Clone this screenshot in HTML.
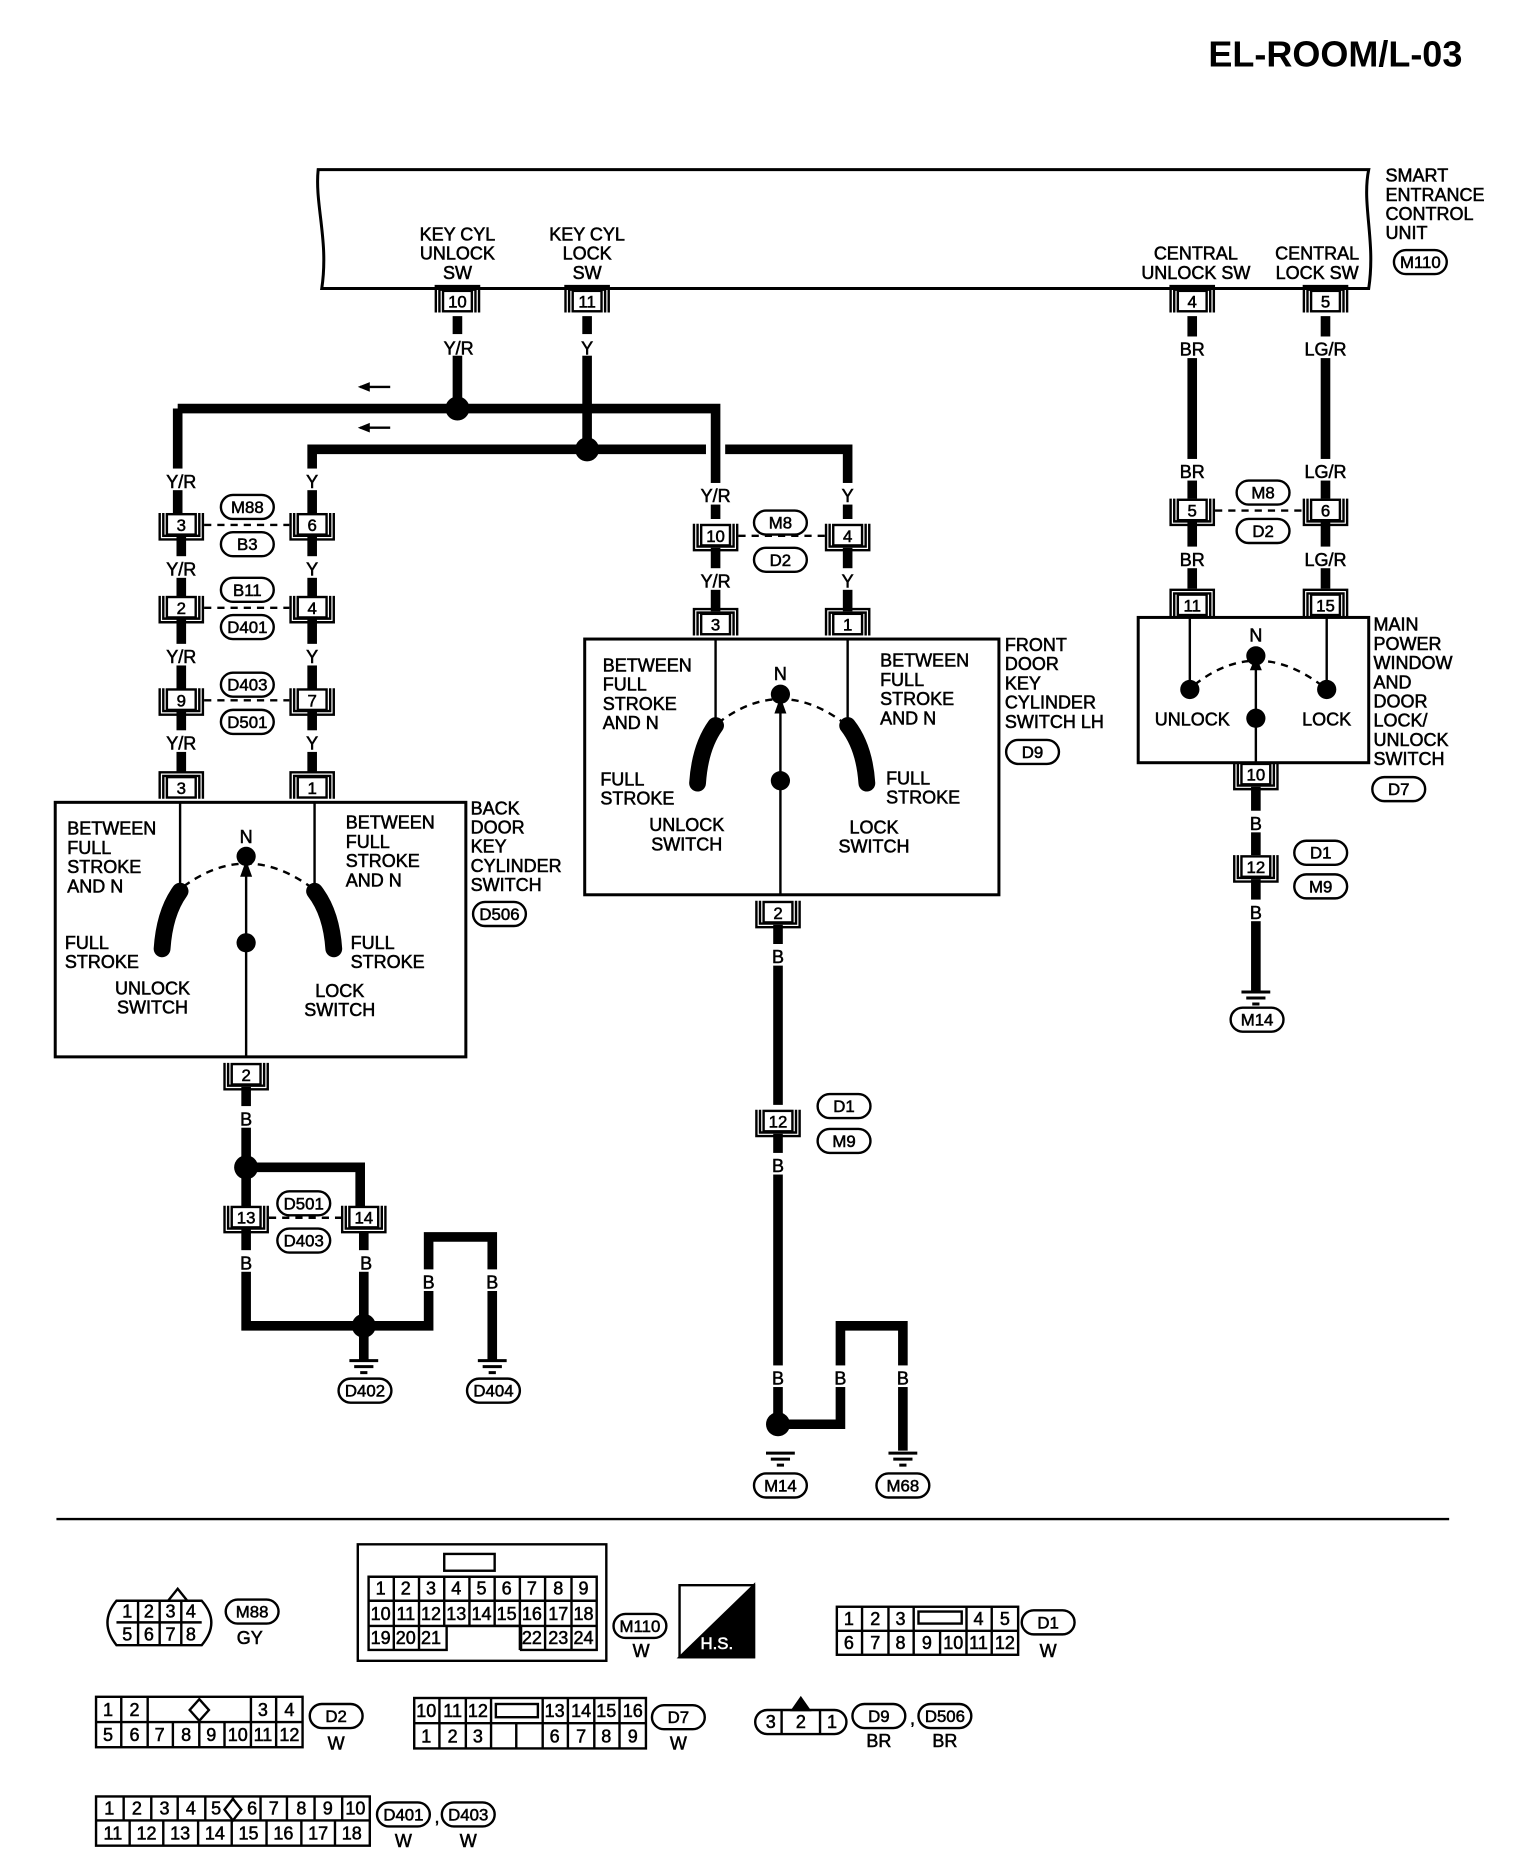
<!DOCTYPE html>
<html><head><meta charset="utf-8"><style>
html,body{margin:0;padding:0;background:#fff}
svg{display:block}
text{font-family:"Liberation Sans",sans-serif;font-size:15px;fill:#000;text-anchor:middle;stroke:#000;stroke-width:0.45}
.l{text-anchor:start}
.s{font-size:14px}
.w{stroke:#000;stroke-width:8;fill:none}
.n{stroke:#000;stroke-width:2;fill:none}
.d{stroke:#000;stroke-width:2;fill:none;stroke-dasharray:6,5}
.c text{font-size:14px}
</style></head><body>
<svg width="1520" height="1864" viewBox="0 0 1266 1552" xmlns="http://www.w3.org/2000/svg">
<defs>
<g id="cu"><path d="M-18,-10V12H18V-10M-15,-10V9H15V-10" class="n"/><rect x="-12" y="-9" width="24" height="17" fill="#fff" stroke="#000" stroke-width="2"/></g>
<g id="cd"><path d="M-18,10V-12H18V10M-15,10V-9H15V10" class="n"/><rect x="-12" y="-8" width="24" height="17" fill="#fff" stroke="#000" stroke-width="2"/></g>
<rect id="ov" x="-22" y="-10" width="44" height="20" rx="10" fill="#fff" stroke="#000" stroke-width="2"/>
<path id="gnd" d="M-12,0H12M-8,5H8M-3,10H3" stroke="#000" stroke-width="2.5"/>
</defs>

<text x="1218" y="55" style="font-size:30px;text-anchor:end;font-weight:bold;stroke-width:0">EL-ROOM/L-03</text>

<!-- control unit -->
<path d="M265,141H1140C1134,170 1146,200 1140,240H268C274,200 262,170 265,141Z" fill="#fff" stroke="#000" stroke-width="2.5"/>
<text x="381" y="200">KEY CYL</text><text x="381" y="216">UNLOCK</text><text x="381" y="232">SW</text>
<text x="489" y="200">KEY CYL</text><text x="489" y="216">LOCK</text><text x="489" y="232">SW</text>
<text x="996" y="216">CENTRAL</text><text x="996" y="232">UNLOCK SW</text>
<text x="1097" y="216">CENTRAL</text><text x="1097" y="232">LOCK SW</text>
<text class="l" x="1154" y="151">SMART</text><text class="l" x="1154" y="167">ENTRANCE</text><text class="l" x="1154" y="183">CONTROL</text><text class="l" x="1154" y="199">UNIT</text>
<use href="#ov" x="1183" y="218"/><text class="s" x="1183" y="223">M110</text>

<!-- wires -->
<path class="w" d="M381,263V340M148,340H596V432M148,340V428M489,263V374M260,432V374H489M489,374H588M604,374H706V432"/>
<path class="w" d="M151,446V498M151,515V575M151,592V643M260,446V498M260,515V575M260,592V643"/>
<path class="w" d="M596,456V509M706,456V509M648,770V920M648,944V1186H700V1104H752V1208M205,905V1104H357V1030H410V1133M205,972H300V1006M303,1025V1133"/>
<path class="w" d="M993,263V415M1104,263V415M993,434V490M1104,434V490M1046,655V712M1046,732V826"/>
<circle cx="381" cy="340" r="10"/><circle cx="489" cy="374" r="10"/>
<circle cx="205" cy="972" r="10"/><circle cx="303" cy="1104" r="10"/><circle cx="648" cy="1186" r="10"/>
<path class="n" d="M300,322H325M300,356H325"/><path d="M298,322l10,-4v8zM298,356l10,-4v8z"/>
<g fill="#fff">
<rect x="365" y="278" width="34" height="18"/><rect x="480" y="278" width="18" height="18"/>
<rect x="134" y="390" width="34" height="18"/><rect x="250" y="390" width="20" height="18"/>
<rect x="134" y="463" width="34" height="18"/><rect x="250" y="463" width="20" height="18"/>
<rect x="134" y="536" width="34" height="18"/><rect x="250" y="536" width="20" height="18"/>
<rect x="134" y="608" width="34" height="18"/><rect x="250" y="608" width="20" height="18"/>
<rect x="578" y="402" width="36" height="18"/><rect x="696" y="402" width="20" height="18"/>
<rect x="578" y="473" width="36" height="18"/><rect x="696" y="473" width="20" height="18"/>
<rect x="978" y="280" width="30" height="18"/><rect x="1082" y="280" width="44" height="18"/>
<rect x="978" y="382" width="30" height="18"/><rect x="1082" y="382" width="44" height="18"/>
<rect x="978" y="455" width="30" height="18"/><rect x="1082" y="455" width="44" height="18"/>
<rect x="196" y="921" width="18" height="18"/><rect x="196" y="1041" width="18" height="18"/><rect x="296" y="1041" width="18" height="18"/>
<rect x="348" y="1057" width="18" height="18"/><rect x="401" y="1057" width="18" height="18"/>
<rect x="639" y="786" width="18" height="18"/><rect x="639" y="960" width="18" height="18"/><rect x="639" y="1137" width="18" height="18"/>
<rect x="691" y="1137" width="18" height="18"/><rect x="743" y="1137" width="18" height="18"/>
<rect x="1037" y="675" width="18" height="18"/><rect x="1037" y="749" width="18" height="18"/>
</g>
<text x="382" y="295">Y/R</text><text x="489" y="295">Y</text>
<text x="151" y="406">Y/R</text><text x="260" y="406">Y</text>
<text x="151" y="479">Y/R</text><text x="260" y="479">Y</text>
<text x="151" y="552">Y/R</text><text x="260" y="552">Y</text>
<text x="151" y="624">Y/R</text><text x="260" y="624">Y</text>
<text x="596" y="418">Y/R</text><text x="706" y="418">Y</text>
<text x="596" y="489">Y/R</text><text x="706" y="489">Y</text>
<text x="993" y="296">BR</text><text x="1104" y="296">LG/R</text>
<text x="993" y="398">BR</text><text x="1104" y="398">LG/R</text>
<text x="993" y="471">BR</text><text x="1104" y="471">LG/R</text>
<text x="205" y="937">B</text><text x="205" y="1057">B</text><text x="305" y="1057">B</text>
<text x="357" y="1073">B</text><text x="410" y="1073">B</text>
<text x="648" y="802">B</text><text x="648" y="976">B</text><text x="648" y="1153">B</text>
<text x="700" y="1153">B</text><text x="752" y="1153">B</text>
<text x="1046" y="691">B</text><text x="1046" y="765">B</text>

<g class="c">
<use href="#cd" x="381" y="250"/><text x="381" y="256">10</text>
<use href="#cd" x="489" y="250"/><text x="489" y="256">11</text>
<use href="#cd" x="993" y="250"/><text x="993" y="256">4</text>
<use href="#cd" x="1104" y="250"/><text x="1104" y="256">5</text>
<use href="#cu" x="151" y="437"/><text x="151" y="442">3</text>
<use href="#cu" x="260" y="437"/><text x="260" y="442">6</text>
<use href="#cu" x="151" y="506"/><text x="151" y="511">2</text>
<use href="#cu" x="260" y="506"/><text x="260" y="511">4</text>
<use href="#cu" x="151" y="583"/><text x="151" y="588">9</text>
<use href="#cu" x="260" y="583"/><text x="260" y="588">7</text>
<use href="#cd" x="151" y="655"/><text x="151" y="661">3</text>
<use href="#cd" x="260" y="655"/><text x="260" y="661">1</text>
<use href="#cu" x="205" y="895"/><text x="205" y="900">2</text>
<use href="#cu" x="205" y="1014"/><text x="205" y="1019">13</text>
<use href="#cu" x="303" y="1014"/><text x="303" y="1019">14</text>
<use href="#cu" x="596" y="446"/><text x="596" y="451">10</text>
<use href="#cu" x="706" y="446"/><text x="706" y="451">4</text>
<use href="#cd" x="596" y="519"/><text x="596" y="525">3</text>
<use href="#cd" x="706" y="519"/><text x="706" y="525">1</text>
<use href="#cu" x="648" y="760"/><text x="648" y="765">2</text>
<use href="#cu" x="648" y="934"/><text x="648" y="939">12</text>
<use href="#cu" x="993" y="425"/><text x="993" y="430">5</text>
<use href="#cu" x="1104" y="425"/><text x="1104" y="430">6</text>
<use href="#cd" x="993" y="503"/><text x="993" y="509">11</text>
<use href="#cd" x="1104" y="503"/><text x="1104" y="509">15</text>
<use href="#cu" x="1046" y="645"/><text x="1046" y="650">10</text>
<use href="#cu" x="1046" y="722"/><text x="1046" y="727">12</text>
</g>
<path class="d" d="M170,437H241M170,506H241M170,583H241M224,1014H284M615,446H687M1012,425H1085"/>
<g>
<use href="#ov" x="206" y="422"/><text class="s" x="206" y="427">M88</text>
<use href="#ov" x="206" y="453"/><text class="s" x="206" y="458">B3</text>
<use href="#ov" x="206" y="491"/><text class="s" x="206" y="496">B11</text>
<use href="#ov" x="206" y="522"/><text class="s" x="206" y="527">D401</text>
<use href="#ov" x="206" y="570"/><text class="s" x="206" y="575">D403</text>
<use href="#ov" x="206" y="601"/><text class="s" x="206" y="606">D501</text>
<use href="#ov" x="253" y="1002"/><text class="s" x="253" y="1007">D501</text>
<use href="#ov" x="253" y="1033"/><text class="s" x="253" y="1038">D403</text>
<use href="#ov" x="650" y="435"/><text class="s" x="650" y="440">M8</text>
<use href="#ov" x="650" y="466"/><text class="s" x="650" y="471">D2</text>
<use href="#ov" x="1052" y="410"/><text class="s" x="1052" y="415">M8</text>
<use href="#ov" x="1052" y="442"/><text class="s" x="1052" y="447">D2</text>
<use href="#ov" x="703" y="921"/><text class="s" x="703" y="926">D1</text>
<use href="#ov" x="703" y="950"/><text class="s" x="703" y="955">M9</text>
<use href="#ov" x="1100" y="710"/><text class="s" x="1100" y="715">D1</text>
<use href="#ov" x="1100" y="738"/><text class="s" x="1100" y="743">M9</text>
<use href="#ov" x="416" y="761"/><text class="s" x="416" y="766">D506</text>
<use href="#ov" x="860" y="626"/><text class="s" x="860" y="631">D9</text>
<use href="#ov" x="1165" y="657"/><text class="s" x="1165" y="662">D7</text>
<use href="#ov" x="304" y="1158"/><text class="s" x="304" y="1163">D402</text>
<use href="#ov" x="411" y="1158"/><text class="s" x="411" y="1163">D404</text>
<use href="#ov" x="650" y="1237"/><text class="s" x="650" y="1242">M14</text>
<use href="#ov" x="752" y="1237"/><text class="s" x="752" y="1242">M68</text>
<use href="#ov" x="1047" y="849"/><text class="s" x="1047" y="854">M14</text>
</g>
<use href="#gnd" x="303" y="1133"/><use href="#gnd" x="410" y="1133"/>
<use href="#gnd" x="650" y="1210"/><use href="#gnd" x="752" y="1210"/><use href="#gnd" x="1046" y="826"/>

<!-- back door switch -->
<rect x="46" y="668" width="342" height="212" fill="none" stroke="#000" stroke-width="2.5"/>
<path class="n" d="M150,668V742M262,668V742M205,880V725"/>
<path d="M205,716l-5,14h10z"/>
<path class="d" d="M153,738Q205,700 258,738"/>
<path d="M150,742Q137,760 135,790" stroke="#000" stroke-width="14" fill="none" stroke-linecap="round"/>
<path d="M262,742Q276,760 278,790" stroke="#000" stroke-width="14" fill="none" stroke-linecap="round"/>
<circle cx="205" cy="713" r="8"/><circle cx="205" cy="785" r="8"/>
<text x="205" y="702">N</text>
<text class="l" x="56" y="695">BETWEEN</text><text class="l" x="56" y="711">FULL</text><text class="l" x="56" y="727">STROKE</text><text class="l" x="56" y="743">AND N</text>
<text class="l" x="288" y="690">BETWEEN</text><text class="l" x="288" y="706">FULL</text><text class="l" x="288" y="722">STROKE</text><text class="l" x="288" y="738">AND N</text>
<text class="l" x="54" y="790">FULL</text><text class="l" x="54" y="806">STROKE</text>
<text class="l" x="292" y="790">FULL</text><text class="l" x="292" y="806">STROKE</text>
<text x="127" y="828">UNLOCK</text><text x="127" y="844">SWITCH</text>
<text x="283" y="830">LOCK</text><text x="283" y="846">SWITCH</text>
<text class="l" x="392" y="678">BACK</text><text class="l" x="392" y="694">DOOR</text><text class="l" x="392" y="710">KEY</text><text class="l" x="392" y="726">CYLINDER</text><text class="l" x="392" y="742">SWITCH</text>

<!-- front door switch -->
<rect x="487" y="532" width="345" height="213" fill="none" stroke="#000" stroke-width="2.5"/>
<path class="n" d="M596,532V604M706,532V604M650,745V588"/>
<path d="M650,580l-5,14h10z"/>
<path class="d" d="M598,602Q650,562 703,602"/>
<path d="M596,604Q583,622 581,652" stroke="#000" stroke-width="14" fill="none" stroke-linecap="round"/>
<path d="M706,604Q720,622 722,652" stroke="#000" stroke-width="14" fill="none" stroke-linecap="round"/>
<circle cx="650" cy="578" r="8"/><circle cx="650" cy="650" r="8"/>
<text x="650" y="566">N</text>
<text class="l" x="502" y="559">BETWEEN</text><text class="l" x="502" y="575">FULL</text><text class="l" x="502" y="591">STROKE</text><text class="l" x="502" y="607">AND N</text>
<text class="l" x="733" y="555">BETWEEN</text><text class="l" x="733" y="571">FULL</text><text class="l" x="733" y="587">STROKE</text><text class="l" x="733" y="603">AND N</text>
<text class="l" x="500" y="654">FULL</text><text class="l" x="500" y="670">STROKE</text>
<text class="l" x="738" y="653">FULL</text><text class="l" x="738" y="669">STROKE</text>
<text x="572" y="692">UNLOCK</text><text x="572" y="708">SWITCH</text>
<text x="728" y="694">LOCK</text><text x="728" y="710">SWITCH</text>
<text class="l" x="837" y="542">FRONT</text><text class="l" x="837" y="558">DOOR</text><text class="l" x="837" y="574">KEY</text><text class="l" x="837" y="590">CYLINDER</text><text class="l" x="837" y="606">SWITCH LH</text>

<!-- main power window switch -->
<rect x="948" y="514" width="192" height="121" fill="none" stroke="#000" stroke-width="2.5"/>
<path class="n" d="M991,514V574M1105,514V574M1046,635V552"/>
<path d="M1046,546l-5,12h10z"/>
<path class="d" d="M995,570Q1046,530 1100,570"/>
<circle cx="991" cy="574" r="8"/><circle cx="1105" cy="574" r="8"/><circle cx="1046" cy="546" r="8"/><circle cx="1046" cy="598" r="8"/>
<text x="1046" y="534">N</text>
<text x="993" y="604">UNLOCK</text><text x="1105" y="604">LOCK</text>
<text class="l" x="1144" y="525">MAIN</text><text class="l" x="1144" y="541">POWER</text><text class="l" x="1144" y="557">WINDOW</text><text class="l" x="1144" y="573">AND</text><text class="l" x="1144" y="589">DOOR</text><text class="l" x="1144" y="605">LOCK/</text><text class="l" x="1144" y="621">UNLOCK</text><text class="l" x="1144" y="637">SWITCH</text>

<path d="M47,1265H1207" stroke="#000" stroke-width="2"/>

<!-- connector faces -->
<g stroke="#000" stroke-width="2" fill="#fff">
<path d="M97,1333H168Q184,1351 168,1370H97Q82,1351 97,1333Z"/>
<path d="M140,1333l8,-10 8,10" fill="none"/>
<path d="M97,1351H168M115,1333V1370M133,1333V1370M151,1333V1370" fill="none"/>
<path d="M298,1286H505V1383H298Z"/>
<path d="M307,1313H497V1374H434V1354H372V1374H307Z"/>
<path d="M307,1333H497M307,1354H497" fill="none"/>
<path d="M328,1313V1374M349,1313V1374M370,1313V1354M391,1313V1354M412,1313V1354M433,1313V1374M454,1313V1374M476,1313V1374" fill="none"/>
<rect x="370" y="1294" width="42" height="14"/>
<path d="M566,1320H628V1380H566Z"/>
<path d="M566,1380L628,1320V1380Z" fill="#000"/>
<rect x="697" y="1338" width="151" height="40"/>
<path d="M697,1358H848M718,1338V1378M740,1338V1378M761,1338V1378M783,1358V1378M805,1338V1378M826,1338V1378" fill="none"/>
<rect x="765" y="1342" width="36" height="10"/>
<rect x="80" y="1413" width="172" height="42"/>
<path d="M80,1434H252M101,1413V1455M123,1413V1455M144,1434V1455M166,1434V1455M187,1434V1455M209,1413V1455M230,1413V1455" fill="none"/>
<path d="M166,1415l8,9-8,9-8-9z"/>
<rect x="345" y="1414" width="193" height="42"/>
<path d="M345,1435H538M366,1414V1456M388,1414V1456M409,1414V1456M452,1414V1456M473,1414V1456M495,1414V1456M516,1414V1456M430,1435V1456" fill="none"/>
<rect x="413" y="1419" width="35" height="11"/>
<rect x="629" y="1424" width="76" height="20" rx="10"/>
<path d="M651,1424V1444M683,1424V1444" fill="none"/>
<path d="M660,1424l7,-10 7,10z" fill="#000"/>
<rect x="80" y="1496" width="228" height="41"/>
<path d="M80,1516H308M103,1496V1516M126,1496V1516M148,1496V1516M171,1496V1516M194,1496V1516M217,1496V1516M239,1496V1516M262,1496V1516M285,1496V1516M108,1516V1537M136,1516V1537M165,1516V1537M193,1516V1537M222,1516V1537M251,1516V1537M279,1516V1537" fill="none"/>
<path d="M194,1498l7,9-7,9-7-9z"/>
</g>
<g style="font-size:12px">
<text x="106" y="1347">1</text><text x="124" y="1347">2</text><text x="142" y="1347">3</text><text x="159" y="1347">4</text>
<text x="106" y="1366">5</text><text x="124" y="1366">6</text><text x="142" y="1366">7</text><text x="159" y="1366">8</text>
<text x="317" y="1328">1</text><text x="338" y="1328">2</text><text x="359" y="1328">3</text><text x="380" y="1328">4</text><text x="401" y="1328">5</text><text x="422" y="1328">6</text><text x="443" y="1328">7</text><text x="465" y="1328">8</text><text x="486" y="1328">9</text>
<text x="317" y="1349">10</text><text x="338" y="1349">11</text><text x="359" y="1349">12</text><text x="380" y="1349">13</text><text x="401" y="1349">14</text><text x="422" y="1349">15</text><text x="443" y="1349">16</text><text x="465" y="1349">17</text><text x="486" y="1349">18</text>
<text x="317" y="1369">19</text><text x="338" y="1369">20</text><text x="359" y="1369">21</text><text x="443" y="1369">22</text><text x="465" y="1369">23</text><text x="486" y="1369">24</text>
<text x="707" y="1353">1</text><text x="729" y="1353">2</text><text x="750" y="1353">3</text><text x="815" y="1353">4</text><text x="837" y="1353">5</text>
<text x="707" y="1373">6</text><text x="729" y="1373">7</text><text x="750" y="1373">8</text><text x="772" y="1373">9</text><text x="794" y="1373">10</text><text x="815" y="1373">11</text><text x="837" y="1373">12</text>
<text x="90" y="1429">1</text><text x="112" y="1429">2</text><text x="219" y="1429">3</text><text x="241" y="1429">4</text>
<text x="90" y="1450">5</text><text x="112" y="1450">6</text><text x="133" y="1450">7</text><text x="155" y="1450">8</text><text x="176" y="1450">9</text><text x="198" y="1450">10</text><text x="219" y="1450">11</text><text x="241" y="1450">12</text>
<text x="355" y="1430">10</text><text x="377" y="1430">11</text><text x="398" y="1430">12</text><text x="462" y="1430">13</text><text x="484" y="1430">14</text><text x="505" y="1430">15</text><text x="527" y="1430">16</text>
<text x="355" y="1451">1</text><text x="377" y="1451">2</text><text x="398" y="1451">3</text><text x="462" y="1451">6</text><text x="484" y="1451">7</text><text x="505" y="1451">8</text><text x="527" y="1451">9</text>
<text x="642" y="1439">3</text><text x="667" y="1439">2</text><text x="693" y="1439">1</text>
<text x="91" y="1511">1</text><text x="114" y="1511">2</text><text x="137" y="1511">3</text><text x="159" y="1511">4</text><text x="180" y="1511">5</text><text x="210" y="1511">6</text><text x="228" y="1511">7</text><text x="251" y="1511">8</text><text x="273" y="1511">9</text><text x="296" y="1511">10</text>
<text x="94" y="1532">11</text><text x="122" y="1532">12</text><text x="150" y="1532">13</text><text x="179" y="1532">14</text><text x="207" y="1532">15</text><text x="236" y="1532">16</text><text x="265" y="1532">17</text><text x="293" y="1532">18</text>
<text x="597" y="1373" style="fill:#fff;stroke:#fff;font-size:14px">H.S.</text>
</g>
<g>
<use href="#ov" x="210" y="1342"/><text class="s" x="210" y="1347">M88</text><text x="208" y="1369">GY</text>
<use href="#ov" x="533" y="1354"/><text class="s" x="533" y="1359">M110</text><text x="534" y="1380">W</text>
<use href="#ov" x="873" y="1351"/><text class="s" x="873" y="1356">D1</text><text x="873" y="1380">W</text>
<use href="#ov" x="280" y="1429"/><text class="s" x="280" y="1434">D2</text><text x="280" y="1457">W</text>
<use href="#ov" x="565" y="1430"/><text class="s" x="565" y="1435">D7</text><text x="565" y="1457">W</text>
<use href="#ov" x="732" y="1429"/><text class="s" x="732" y="1434">D9</text><text x="732" y="1455">BR</text><text x="760" y="1436">,</text>
<use href="#ov" x="787" y="1429"/><text class="s" x="787" y="1434">D506</text><text x="787" y="1455">BR</text>
<use href="#ov" x="336" y="1511"/><text class="s" x="336" y="1516">D401</text><text x="336" y="1538">W</text><text x="364" y="1518">,</text>
<use href="#ov" x="390" y="1511"/><text class="s" x="390" y="1516">D403</text><text x="390" y="1538">W</text>
</g>
</svg>
</body></html>
